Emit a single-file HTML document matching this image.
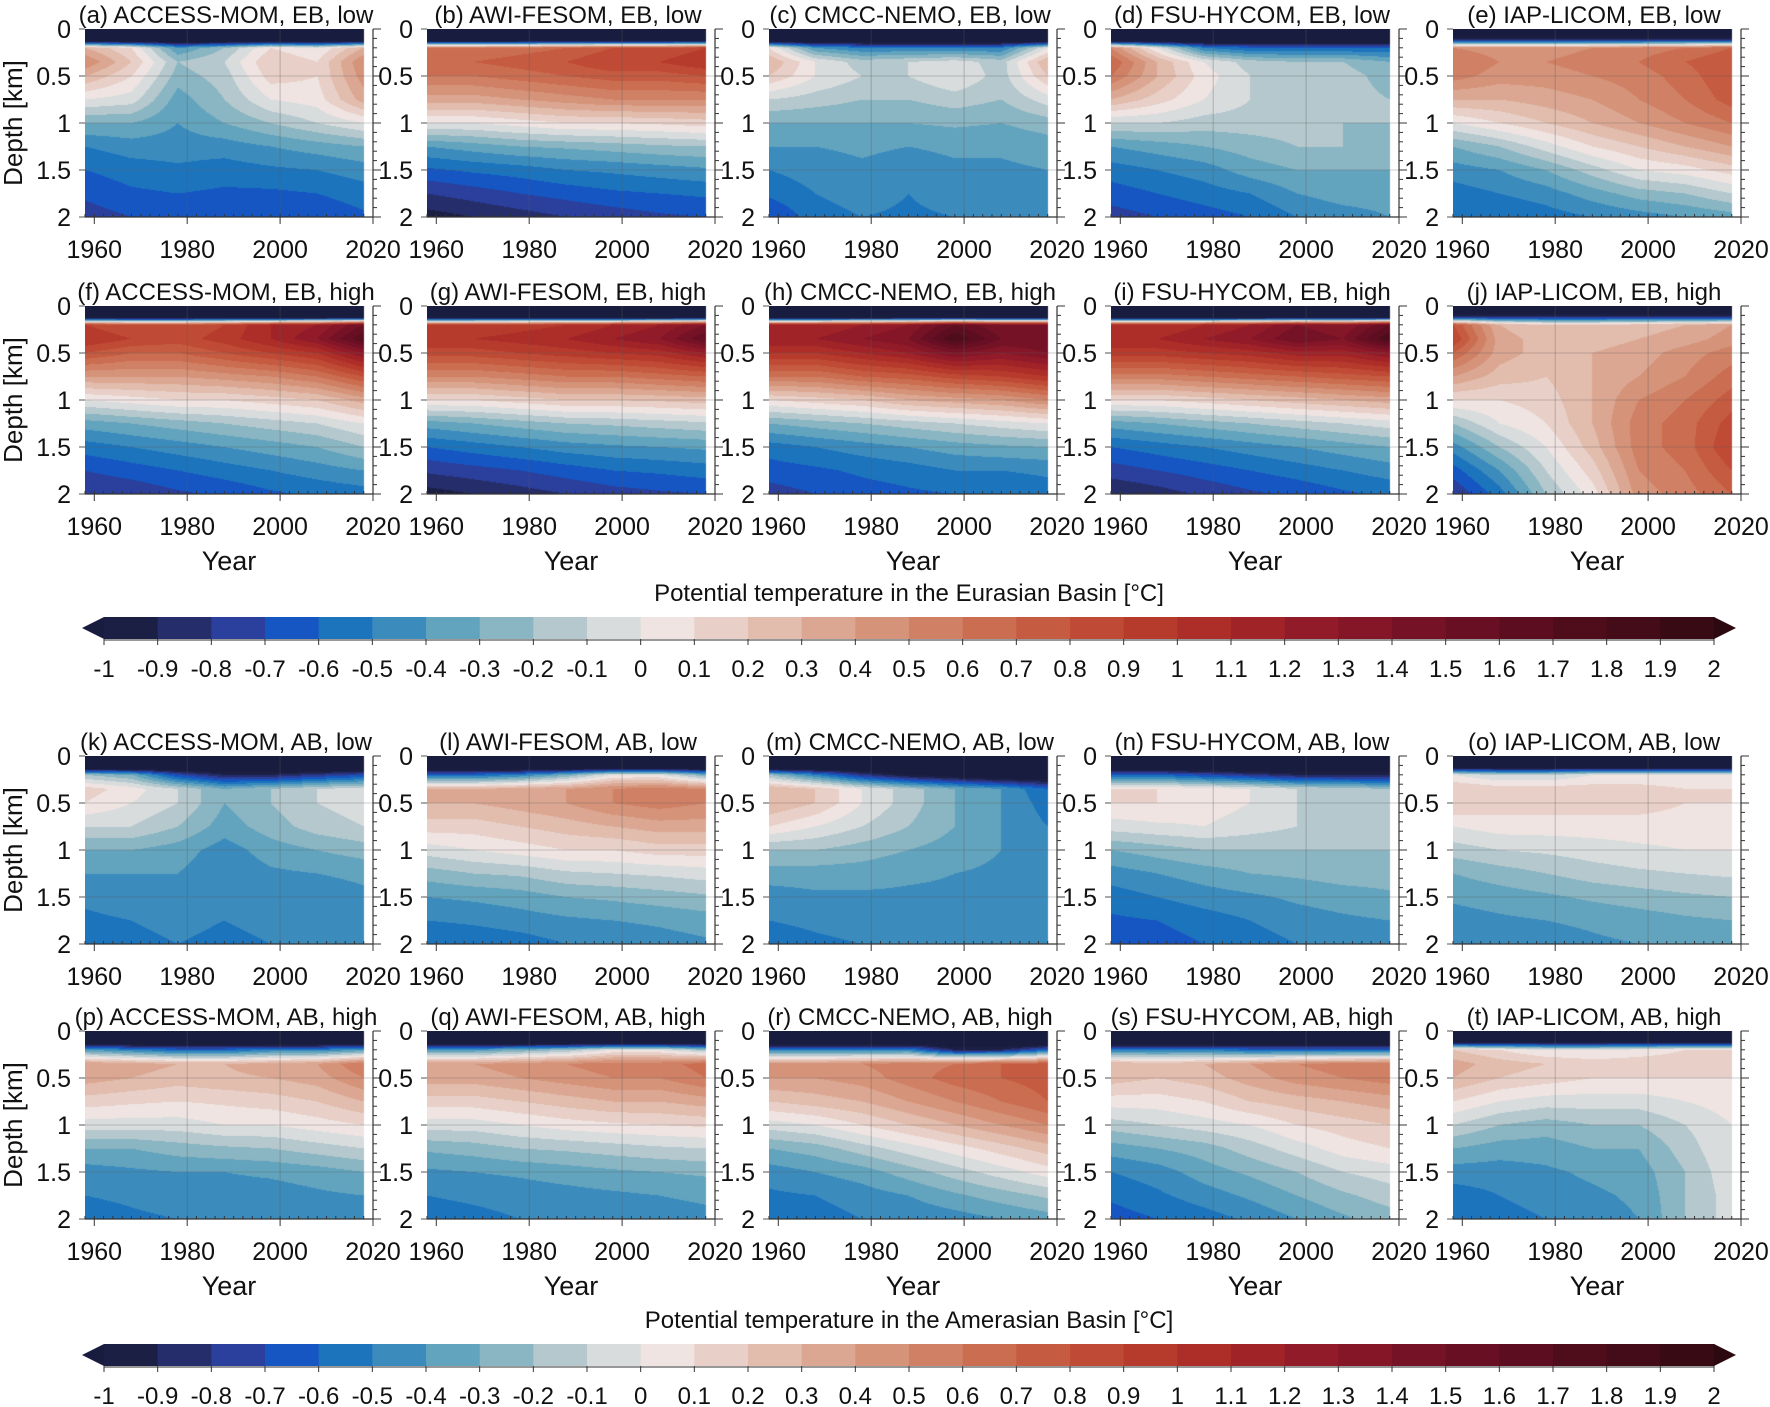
<!DOCTYPE html>
<html><head><meta charset="utf-8">
<style>
html,body{margin:0;padding:0;background:#fff;}
#root{position:relative;width:1770px;height:1407px;overflow:hidden;font-family:"Liberation Sans",Arial,sans-serif;}
canvas{position:absolute;}
svg{position:absolute;left:0;top:0;}
</style></head>
<body>
<div id="root">
<svg id="ov" width="1770" height="1407"></svg>
</div>
<script>
// ---- data ----
const years = [1958,1968,1978,1988,1998,2008,2018];
const depths = [0,0.12,0.2,0.35,0.5,0.75,1.0,1.25,1.5,1.75,2.0];
const levels = [-1,-0.9,-0.8,-0.7,-0.6,-0.5,-0.4,-0.3,-0.2,-0.1,0,0.1,0.2,0.3,0.4,0.5,0.6,0.7,0.8,0.9,1,1.1,1.2,1.3,1.4,1.5,1.6,1.7,1.8,1.9,2];
const levelLabels = ["-1","-0.9","-0.8","-0.7","-0.6","-0.5","-0.4","-0.3","-0.2","-0.1","0","0.1","0.2","0.3","0.4","0.5","0.6","0.7","0.8","0.9","1","1.1","1.2","1.3","1.4","1.5","1.6","1.7","1.8","1.9","2"];
const binColors = ["#1c1f44","#252e6a","#2b3f9c","#1656c2","#1c74bd","#3b8bbd","#62a3bd","#8ab5c2","#b4c8cd","#d8dcdd","#efe4e2","#e8d0c8","#e2bcad","#dba792","#d59379","#d08064","#cb6d51","#c55b41","#bf4a35","#b73b2d","#ad2e29","#a02328","#921b29","#841628","#761226","#690f23","#5c0e20","#4f0d1c","#430c18","#380a13"];
const underColor = "#181c3e", overColor = "#2c0810";
const yearTicks = [1960,1980,2000,2020];
const depthTicks = [0,0.5,1,1.5,2];
const depthTickLabels = ["0","0.5","1","1.5","2"];
const titles = ["(a) ACCESS-MOM, EB, low","(b) AWI-FESOM, EB, low","(c) CMCC-NEMO, EB, low","(d) FSU-HYCOM, EB, low","(e) IAP-LICOM, EB, low",
"(f) ACCESS-MOM, EB, high","(g) AWI-FESOM, EB, high","(h) CMCC-NEMO, EB, high","(i) FSU-HYCOM, EB, high","(j) IAP-LICOM, EB, high",
"(k) ACCESS-MOM, AB, low","(l) AWI-FESOM, AB, low","(m) CMCC-NEMO, AB, low","(n) FSU-HYCOM, AB, low","(o) IAP-LICOM, AB, low",
"(p) ACCESS-MOM, AB, high","(q) AWI-FESOM, AB, high","(r) CMCC-NEMO, AB, high","(s) FSU-HYCOM, AB, high","(t) IAP-LICOM, AB, high"];
const S=[-1.5,-1.5,-1.5,-1.5,-1.5,-1.5,-1.5];
const tA=[S,[-1.2,-1.2,-1.2,-1.2,-1.2,-1.2,-1.2],[0.3,0.1,-0.4,-0.2,0.1,0.0,0.3],[0.5,0.2,-0.2,-0.1,0.2,0.1,0.5],[0.3,0.1,-0.25,-0.15,0.15,0.1,0.45],[0.0,-0.05,-0.35,-0.2,0.0,0.05,0.35],[-0.3,-0.3,-0.4,-0.3,-0.2,-0.1,0.0],[-0.5,-0.45,-0.45,-0.45,-0.4,-0.35,-0.3],[-0.6,-0.55,-0.52,-0.55,-0.52,-0.5,-0.45],[-0.68,-0.62,-0.6,-0.62,-0.62,-0.6,-0.55],[-0.75,-0.7,-0.65,-0.68,-0.7,-0.68,-0.62]];
const tB=[S,[-1.2,-1.2,-1.2,-1.2,-1.2,-1.2,-1.2],[0.6,0.6,0.65,0.7,0.8,0.8,0.9],[0.7,0.7,0.75,0.8,0.9,0.9,1.0],[0.6,0.6,0.65,0.7,0.75,0.75,0.8],[0.35,0.35,0.4,0.45,0.5,0.5,0.5],[0.0,0.0,0.05,0.1,0.1,0.12,0.15],[-0.4,-0.35,-0.3,-0.28,-0.25,-0.22,-0.2],[-0.62,-0.58,-0.55,-0.5,-0.48,-0.45,-0.42],[-0.8,-0.75,-0.7,-0.66,-0.62,-0.6,-0.58],[-0.95,-0.9,-0.85,-0.8,-0.76,-0.72,-0.7]];
const tC=[S,[-1.2,-1.2,-1.2,-1.2,-1.2,-1.2,-1.2],[0.1,-0.4,-0.5,-0.5,-0.5,-0.5,0.0],[0.3,0.0,-0.15,-0.1,-0.05,-0.15,0.3],[0.2,0.0,-0.1,-0.1,0.0,-0.15,0.2],[-0.1,-0.15,-0.2,-0.2,-0.15,-0.2,-0.05],[-0.3,-0.3,-0.3,-0.3,-0.28,-0.3,-0.25],[-0.4,-0.4,-0.38,-0.4,-0.38,-0.38,-0.35],[-0.5,-0.45,-0.42,-0.45,-0.42,-0.42,-0.4],[-0.58,-0.5,-0.45,-0.5,-0.45,-0.45,-0.45],[-0.7,-0.55,-0.5,-0.52,-0.5,-0.5,-0.5]];
const tD=[S,[-1.2,-1.2,-1.2,-1.2,-1.2,-1.2,-1.2],[0.5,0.0,-0.5,-0.6,-0.6,-0.6,-0.6],[0.7,0.3,0.0,-0.15,-0.2,-0.2,-0.3],[0.6,0.3,0.05,-0.1,-0.15,-0.15,-0.25],[0.3,0.15,0.0,-0.1,-0.15,-0.15,-0.2],[-0.1,-0.1,-0.15,-0.15,-0.15,-0.2,-0.2],[-0.4,-0.35,-0.3,-0.25,-0.2,-0.2,-0.25],[-0.55,-0.5,-0.45,-0.35,-0.3,-0.3,-0.3],[-0.65,-0.6,-0.55,-0.5,-0.4,-0.35,-0.35],[-0.75,-0.7,-0.65,-0.6,-0.5,-0.45,-0.4]];
const tE=[S,[-0.8,-0.8,-0.8,-0.8,-0.8,-0.8,-0.8],[0.5,0.45,0.45,0.5,0.55,0.6,0.7],[0.6,0.5,0.5,0.55,0.6,0.7,0.8],[0.55,0.45,0.45,0.5,0.55,0.65,0.8],[0.3,0.3,0.35,0.4,0.5,0.6,0.75],[0.0,0.1,0.2,0.3,0.4,0.5,0.6],[-0.3,-0.2,-0.05,0.1,0.2,0.3,0.4],[-0.45,-0.4,-0.3,-0.15,0.0,0.05,0.15],[-0.55,-0.5,-0.45,-0.35,-0.25,-0.2,-0.1],[-0.6,-0.6,-0.55,-0.5,-0.45,-0.4,-0.35]];
const tF=[S,[-1.2,-1.2,-1.2,-1.2,-1.2,-1.2,-1.2],[0.9,0.8,0.8,0.9,1.1,1.2,1.5],[1.0,0.9,0.85,0.95,1.1,1.3,1.7],[0.8,0.7,0.7,0.8,0.9,1.0,1.3],[0.4,0.4,0.4,0.45,0.5,0.6,0.8],[0.0,0.05,0.1,0.1,0.15,0.2,0.35],[-0.35,-0.3,-0.25,-0.2,-0.15,-0.1,0.0],[-0.55,-0.5,-0.45,-0.4,-0.35,-0.3,-0.2],[-0.7,-0.65,-0.6,-0.55,-0.5,-0.45,-0.4],[-0.8,-0.78,-0.72,-0.68,-0.62,-0.58,-0.55]];
const tG=[S,[-1.2,-1.2,-1.2,-1.2,-1.2,-1.2,-1.2],[0.9,0.9,0.95,1.0,1.1,1.2,1.4],[1.0,1.0,1.05,1.1,1.2,1.3,1.6],[0.85,0.85,0.9,0.95,1.0,1.05,1.2],[0.5,0.5,0.55,0.6,0.6,0.65,0.7],[0.1,0.1,0.15,0.2,0.2,0.22,0.25],[-0.35,-0.3,-0.25,-0.2,-0.18,-0.15,-0.12],[-0.6,-0.55,-0.5,-0.45,-0.42,-0.4,-0.38],[-0.78,-0.74,-0.7,-0.65,-0.6,-0.58,-0.55],[-0.95,-0.9,-0.85,-0.8,-0.75,-0.72,-0.7]];
const tH=[S,[-1.2,-1.2,-1.2,-1.2,-1.2,-1.2,-1.2],[1.1,1.1,1.2,1.3,1.6,1.4,1.4],[1.2,1.2,1.3,1.4,1.8,1.5,1.5],[1.0,1.0,1.1,1.2,1.4,1.3,1.4],[0.6,0.6,0.7,0.75,0.85,0.9,1.0],[0.1,0.15,0.2,0.3,0.35,0.4,0.5],[-0.3,-0.25,-0.2,-0.15,-0.1,-0.05,0.0],[-0.55,-0.5,-0.45,-0.4,-0.35,-0.32,-0.3],[-0.65,-0.62,-0.58,-0.55,-0.5,-0.5,-0.48],[-0.75,-0.7,-0.65,-0.62,-0.6,-0.58,-0.55]];
const tI=[S,[-1.2,-1.2,-1.2,-1.2,-1.2,-1.2,-1.2],[1.0,1.0,1.1,1.2,1.4,1.3,1.6],[1.1,1.1,1.2,1.3,1.5,1.4,1.8],[0.95,0.95,1.0,1.05,1.15,1.15,1.3],[0.55,0.55,0.6,0.65,0.7,0.75,0.8],[0.1,0.1,0.15,0.2,0.25,0.3,0.35],[-0.35,-0.3,-0.25,-0.2,-0.15,-0.1,-0.05],[-0.6,-0.55,-0.5,-0.45,-0.4,-0.35,-0.3],[-0.75,-0.7,-0.65,-0.6,-0.55,-0.5,-0.45],[-0.9,-0.85,-0.78,-0.72,-0.68,-0.62,-0.58]];
const tJ=[S,[-0.8,-0.8,-0.8,-0.8,-0.8,-0.8,-0.8],[0.8,0.3,0.2,0.2,0.25,0.3,0.4],[0.9,0.35,0.25,0.25,0.3,0.35,0.45],[0.7,0.35,0.25,0.3,0.35,0.45,0.55],[0.4,0.25,0.2,0.3,0.4,0.5,0.65],[0.1,0.1,0.15,0.3,0.5,0.6,0.75],[-0.2,0.0,0.1,0.3,0.55,0.65,0.85],[-0.45,-0.2,0.0,0.25,0.55,0.65,0.9],[-0.65,-0.4,-0.1,0.15,0.5,0.6,0.8],[-0.8,-0.55,-0.2,0.05,0.45,0.55,0.7]];
const tK=[S,[-1.2,-1.2,-1.2,-1.2,-1.2,-1.2,-1.2],[-0.2,-0.3,-0.7,-0.9,-0.9,-0.8,-0.7],[0.15,0.05,-0.1,-0.3,-0.2,-0.1,-0.05],[0.1,0.0,-0.1,-0.3,-0.2,-0.1,-0.05],[-0.1,-0.1,-0.2,-0.35,-0.25,-0.15,-0.1],[-0.3,-0.3,-0.35,-0.45,-0.35,-0.3,-0.25],[-0.4,-0.4,-0.4,-0.48,-0.42,-0.4,-0.38],[-0.48,-0.45,-0.45,-0.5,-0.45,-0.45,-0.42],[-0.52,-0.5,-0.48,-0.5,-0.48,-0.48,-0.45],[-0.55,-0.52,-0.5,-0.52,-0.5,-0.5,-0.48]];
const tL=[S,[-1.2,-1.2,-1.2,-1.2,-1.2,-1.2,-1.2],[-0.6,-0.6,-0.5,-0.3,0.0,0.0,-0.3],[0.3,0.3,0.35,0.4,0.5,0.55,0.5],[0.3,0.3,0.35,0.4,0.5,0.55,0.5],[0.15,0.15,0.2,0.25,0.3,0.35,0.35],[-0.05,0.0,0.05,0.1,0.1,0.15,0.15],[-0.25,-0.2,-0.18,-0.12,-0.1,-0.08,-0.05],[-0.4,-0.38,-0.35,-0.3,-0.28,-0.25,-0.22],[-0.5,-0.48,-0.45,-0.42,-0.4,-0.38,-0.35],[-0.6,-0.58,-0.55,-0.5,-0.48,-0.45,-0.42]];
const tM=[S,[-1.2,-1.2,-1.2,-1.2,-1.2,-1.2,-1.2],[-0.2,-0.5,-0.8,-1.0,-1.1,-1.2,-1.2],[0.3,0.2,0.0,-0.15,-0.3,-0.4,-0.6],[0.3,0.2,0.0,-0.15,-0.3,-0.4,-0.55],[0.1,0.0,-0.1,-0.2,-0.3,-0.4,-0.5],[-0.2,-0.2,-0.25,-0.3,-0.35,-0.4,-0.45],[-0.35,-0.35,-0.35,-0.38,-0.4,-0.42,-0.45],[-0.45,-0.42,-0.42,-0.42,-0.42,-0.45,-0.45],[-0.5,-0.48,-0.46,-0.45,-0.45,-0.47,-0.48],[-0.55,-0.52,-0.5,-0.48,-0.48,-0.5,-0.5]];
const tN=[S,[-1.2,-1.2,-1.2,-1.2,-1.2,-1.2,-1.2],[-0.6,-0.6,-0.7,-0.8,-0.9,-0.9,-0.9],[0.1,0.1,0.05,0.0,-0.1,-0.15,-0.2],[0.1,0.1,0.05,0.0,-0.1,-0.15,-0.2],[-0.05,-0.02,0.0,-0.05,-0.1,-0.15,-0.2],[-0.3,-0.25,-0.2,-0.2,-0.2,-0.2,-0.2],[-0.45,-0.4,-0.35,-0.3,-0.28,-0.25,-0.25],[-0.55,-0.5,-0.45,-0.42,-0.38,-0.35,-0.32],[-0.62,-0.6,-0.55,-0.5,-0.45,-0.42,-0.4],[-0.68,-0.65,-0.6,-0.55,-0.5,-0.48,-0.45]];
const tO=[S,[-1.1,-1.1,-1.1,-1.1,-1.1,-1.1,-1.1],[0.0,-0.1,-0.1,0.0,0.0,0.0,0.0],[0.2,0.15,0.15,0.15,0.15,0.1,0.1],[0.2,0.15,0.15,0.15,0.15,0.1,0.1],[0.0,0.05,0.05,0.05,0.05,0.05,0.05],[-0.15,-0.1,-0.08,-0.05,-0.02,0.0,0.0],[-0.3,-0.25,-0.2,-0.15,-0.12,-0.1,-0.08],[-0.38,-0.35,-0.32,-0.28,-0.25,-0.22,-0.2],[-0.45,-0.42,-0.4,-0.38,-0.35,-0.32,-0.3],[-0.5,-0.48,-0.45,-0.42,-0.4,-0.38,-0.38]];
const tP=[S,[-1.2,-1.2,-1.2,-1.2,-1.2,-1.2,-1.2],[-0.4,-0.5,-0.6,-0.6,-0.5,-0.5,-0.4],[0.4,0.35,0.3,0.3,0.35,0.4,0.6],[0.35,0.3,0.25,0.28,0.3,0.35,0.5],[0.15,0.12,0.1,0.12,0.15,0.2,0.3],[-0.05,-0.05,-0.05,0.0,0.0,0.05,0.1],[-0.3,-0.3,-0.25,-0.22,-0.2,-0.15,-0.1],[-0.45,-0.42,-0.4,-0.4,-0.38,-0.35,-0.3],[-0.5,-0.48,-0.45,-0.45,-0.45,-0.42,-0.4],[-0.55,-0.52,-0.5,-0.5,-0.5,-0.48,-0.45]];
const tQ=[S,[-1.2,-1.2,-1.2,-1.2,-1.2,-1.2,-1.2],[-0.4,-0.4,-0.3,-0.2,0.0,0.0,-0.2],[0.4,0.4,0.45,0.5,0.55,0.55,0.65],[0.35,0.35,0.4,0.45,0.5,0.5,0.6],[0.15,0.15,0.2,0.25,0.3,0.3,0.35],[-0.05,-0.05,0.0,0.05,0.08,0.1,0.12],[-0.28,-0.25,-0.2,-0.18,-0.15,-0.12,-0.1],[-0.42,-0.4,-0.38,-0.35,-0.32,-0.3,-0.28],[-0.5,-0.48,-0.46,-0.44,-0.42,-0.4,-0.38],[-0.55,-0.53,-0.5,-0.48,-0.46,-0.45,-0.43]];
const tR=[S,[-1.2,-1.2,-1.2,-1.2,-1.2,-1.2,-1.2],[-0.5,-0.5,-0.5,-0.5,-0.9,-0.9,-0.6],[0.45,0.45,0.5,0.55,0.6,0.7,0.75],[0.4,0.4,0.45,0.55,0.65,0.7,0.75],[0.2,0.25,0.3,0.4,0.5,0.6,0.7],[-0.05,0.0,0.1,0.2,0.3,0.4,0.5],[-0.3,-0.25,-0.15,-0.05,0.05,0.15,0.25],[-0.45,-0.4,-0.35,-0.25,-0.15,-0.05,0.05],[-0.52,-0.5,-0.45,-0.4,-0.32,-0.25,-0.18],[-0.58,-0.55,-0.5,-0.48,-0.45,-0.4,-0.35]];
const tS=[S,[-1.2,-1.2,-1.2,-1.2,-1.2,-1.2,-1.2],[-0.5,-0.5,-0.5,-0.6,-0.6,-0.6,-0.6],[0.3,0.25,0.3,0.4,0.5,0.55,0.6],[0.25,0.2,0.25,0.35,0.45,0.5,0.55],[0.05,0.05,0.1,0.2,0.25,0.3,0.35],[-0.15,-0.1,-0.05,0.0,0.1,0.15,0.2],[-0.35,-0.3,-0.25,-0.15,-0.05,0.05,0.1],[-0.5,-0.45,-0.35,-0.28,-0.2,-0.1,-0.05],[-0.58,-0.52,-0.45,-0.38,-0.3,-0.22,-0.15],[-0.65,-0.6,-0.55,-0.48,-0.4,-0.32,-0.25]];
const tT=[S,[-1.0,-1.0,-1.0,-1.0,-1.0,-1.0,-1.0],[0.2,0.1,0.0,0.0,0.05,0.1,0.1],[0.35,0.25,0.2,0.15,0.15,0.15,0.15],[0.3,0.2,0.15,0.1,0.1,0.1,0.1],[0.1,0.0,-0.05,-0.05,-0.05,0.0,0.05],[-0.1,-0.2,-0.25,-0.2,-0.2,-0.1,0.0],[-0.3,-0.35,-0.35,-0.3,-0.3,-0.15,0.0],[-0.45,-0.45,-0.42,-0.38,-0.35,-0.2,-0.02],[-0.55,-0.5,-0.45,-0.42,-0.38,-0.2,-0.05],[-0.6,-0.55,-0.5,-0.45,-0.4,-0.2,-0.05]];
const panels=[tA,tB,tC,tD,tE,tF,tG,tH,tI,tJ,tK,tL,tM,tN,tO,tP,tQ,tR,tS,tT];

// ---- layout ----
const colLeft=[85,427,769,1111,1453];
const rowTop=[29,306,756,1031];
const PW=288, PH=188, Y0=1958, Y1=2020, D1=2;
const NS="http://www.w3.org/2000/svg";
const ov=document.getElementById('ov');
const root=document.getElementById('root');
function mk(tag,attrs,parent){const e=document.createElementNS(NS,tag);for(const k in attrs)e.setAttribute(k,attrs[k]);(parent||ov).appendChild(e);return e;}
function txt(s,x,y,size,anchor,parent){const t=mk('text',{x:x,y:y,'font-size':size,'text-anchor':anchor||'middle','font-family':'Liberation Sans, Arial, sans-serif',fill:'#111'},parent);t.textContent=s;return t;}
function hex(c){return [parseInt(c.substr(1,2),16),parseInt(c.substr(3,2),16),parseInt(c.substr(5,2),16)];}
const binRGB=binColors.map(hex), underRGB=hex(underColor), overRGB=hex(overColor);
function colorOf(v){if(v<levels[0])return underRGB;if(v>=levels[levels.length-1])return overRGB;const i=Math.floor((v-levels[0])/0.1+1e-9);return binRGB[Math.min(i,binRGB.length-1)];}
function interp(arr,v){let i=0;while(i<arr.length-2&&v>arr[i+1])i++;let f=(v-arr[i])/(arr[i+1]-arr[i]);f=Math.max(0,Math.min(1,f));return [i,f];}
function sx(y){return (y-Y0)/(Y1-Y0)*PW;}
function sy(d){return d/D1*PH;}

panels.forEach((grid,p)=>{
  const r=Math.floor(p/5), c=p%5, L=colLeft[c], T=rowTop[r];
  const g=mk('g',{});
  
  
  const cv=document.createElement('canvas');cv.width=PW;cv.height=PH;
  cv.style.left=L+'px';cv.style.top=T+'px';
  
  
  root.insertBefore(cv,ov);
  const ctx=cv.getContext('2d');const img=ctx.createImageData(PW,PH);
  const xEnd=sx(years[years.length-1]);
  for(let py=0;py<PH;py++){const d=(py+0.5)/PH*D1;const [di,df]=interp(depths,d);
    for(let px=0;px<PW;px++){const k=(py*PW+px)*4;
      if(px+0.5>xEnd){img.data[k+3]=0;continue;}
      const yr=Y0+(px+0.5)/PW*(Y1-Y0);const [yi,yf]=interp(years,yr);
      const v=(grid[di][yi]*(1-yf)+grid[di][yi+1]*yf)*(1-df)+(grid[di+1][yi]*(1-yf)+grid[di+1][yi+1]*yf)*df;
      const col=colorOf(v);img.data[k]=col[0];img.data[k+1]=col[1];img.data[k+2]=col[2];img.data[k+3]=255;}}
  ctx.putImageData(img,0,0);
  [1980,2000].forEach(y=>{const l=mk('line',{x1:L+sx(y),x2:L+sx(y),y1:T,y2:T+PH,stroke:'rgba(90,90,90,0.35)','stroke-width':1},g);});
  [0.5,1,1.5].forEach(d=>{const l=mk('line',{x1:L,x2:L+PW,y1:T+sy(d),y2:T+sy(d),stroke:'rgba(90,90,90,0.3)','stroke-width':1},g);});
  mk('line',{x1:L,x2:L+PW,y1:T+PH,y2:T+PH,stroke:'#333','stroke-width':1.2},g);
  mk('line',{x1:L+PW,x2:L+PW,y1:T,y2:T+PH,stroke:'#333','stroke-width':1.2},g);
  for(let d=0;d<=2.0001;d+=0.1){const maj=Math.abs(d*2-Math.round(d*2))<1e-6;mk('line',{x1:L+PW,x2:L+PW+(maj?8:4),y1:T+sy(d),y2:T+sy(d),stroke:'#333','stroke-width':1},g);}
  depthTicks.forEach(d=>{mk('line',{x1:L-6,x2:L,y1:T+sy(d),y2:T+sy(d),stroke:'#555','stroke-width':1},g);});
  for(let y=1958;y<=2020;y+=2){mk('line',{x1:L+sx(y),x2:L+sx(y),y1:T+PH,y2:T+PH-3,stroke:'#333','stroke-width':1},g);}
  yearTicks.forEach(y=>{mk('line',{x1:L+sx(y),x2:L+sx(y),y1:T+PH,y2:T+PH+7,stroke:'#333','stroke-width':1},g);
    const t=txt(String(y),L+sx(y),T+PH+41,25,'middle',g);});
  depthTicks.forEach((d,i)=>{const t=txt(depthTickLabels[i],L-14,T+sy(d)+9,25,'end',g);});
  const tt=txt(titles[p],L+PW/2-3,T-6,24,'middle',g);
  if(c===0){const yl=txt('Depth [km]',0,0,26,'middle',g);yl.setAttribute('transform','translate('+(L-63)+','+(T+PH/2)+') rotate(-90)');}
  if(r===1||r===3){const xl=txt('Year',L+PW/2,T+PH+76,27,'middle',g);}
});

// ---- colorbars ----
function colorbar(top,labelY,titleY,title,name){
  const g=mk('g',{});
  const x0=104, x1=1714, h=22, w=(x1-x0)/(levels.length-1);
  binColors.forEach((c,i)=>{const rct=mk('rect',{x:x0+i*w,y:top,width:w+0.6,height:h,fill:c},g);});
  mk('polygon',{points:x0+','+top+' '+(x0-22)+','+(top+h/2)+' '+x0+','+(top+h),fill:underColor},g);
  mk('polygon',{points:x1+','+top+' '+(x1+22)+','+(top+h/2)+' '+x1+','+(top+h),fill:overColor},g);
  mk('line',{x1:x0,x2:x1,y1:top+h+1,y2:top+h+1,stroke:'#777','stroke-width':1.5},g);
  levels.forEach((v,i)=>{mk('line',{x1:x0+i*w,x2:x0+i*w,y1:top+h,y2:top+h+6,stroke:'#333','stroke-width':1},g);
    const t=txt(levelLabels[i],x0+i*w,labelY,24,'middle',g);});
  const tt=txt(title,(x0+x1)/2,titleY,24,'middle',g);
}
colorbar(617,677,601,'Potential temperature in the Eurasian Basin [°C]','colorbar-eurasian');
colorbar(1344,1404,1328,'Potential temperature in the Amerasian Basin [°C]','colorbar-amerasian');
</script>
</body></html>
